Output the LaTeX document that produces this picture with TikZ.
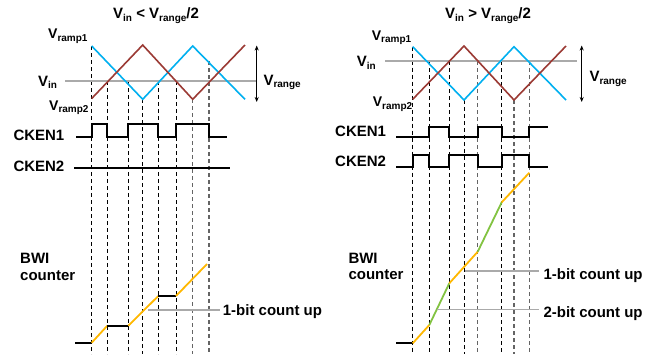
\documentclass[tikz,border=0pt]{standalone}
\usepackage{fontspec}
\setmainfont{Liberation Sans}
\usetikzlibrary{arrows.meta}
\definecolor{rampblue}{RGB}{0,176,240}
\definecolor{rampred}{RGB}{155,58,52}
\definecolor{cntorange}{RGB}{255,184,0}
\definecolor{cntgreen}{RGB}{130,195,65}
\definecolor{vingray}{RGB}{170,170,170}
\definecolor{guidegraycol}{RGB}{100,100,100}
\newcommand\sbs[1]{\raisebox{-2.6pt}{\fontsize{10}{10}\selectfont #1}}
\tikzset{
  lbl/.style={font=\fontsize{15}{17}\selectfont\bfseries, inner sep=0pt, anchor=base west},
  rlbl/.style={font=\fontsize{14}{16}\selectfont\bfseries, inner sep=0pt, anchor=base west},
  rampA/.style={rampblue, line width=1.6pt, line join=miter},
  rampB/.style={rampred, line width=1.6pt, line join=miter},
  vinline/.style={vingray, line width=1.6pt},
  clk/.style={black, line width=1.8pt, line join=miter},
  guide/.style={black, line width=0.9pt, dash pattern=on 4pt off 3pt},
  guidegray/.style={guidegraycol, line width=1.2pt, dash pattern=on 4pt off 3pt},
  rangearrow/.style={black, line width=1.2pt, {Stealth[length=5pt,width=4pt]}-{Stealth[length=5pt,width=4pt]}},
  cntblack/.style={black, line width=1.8pt},
  cntor/.style={cntorange, line width=1.8pt},
  cntgr/.style={cntgreen, line width=1.8pt},
  leader/.style={vingray, line width=1.6pt}
}
\begin{document}
\begin{tikzpicture}[x=1pt,y=-1pt]
\useasboundingbox (0,0) rectangle (658,354);
\fill[white] (0,0) rectangle (658,354);

% ================= LEFT PANEL =================
% guides
\draw[guide] (91.7,46) -- (91.7,354);
\draw[guide] (107.3,81) -- (107.3,354);
\draw[guide] (128.3,81) -- (128.3,354);
\draw[guide] (142.7,99) -- (142.7,354);
\draw[guide] (158.3,81) -- (158.3,354);
\draw[guide] (176,81) -- (176,354);
\draw[guidegray] (192.7,99) -- (192.7,354);
\draw[guidegray] (209,61) -- (209,354);

% Vin line and ramps
\draw[vinline] (65,80.7) -- (257,80.7);
\draw[rampA] (91.7,46) -- (142.7,99.3) -- (192.7,46) -- (245,99.3);
\draw[rampB] (91.7,98.5) -- (142.7,45) -- (192.7,99.3) -- (245,45);
\draw[rangearrow] (256.7,45.5) -- (256.7,102);

% clocks
\draw[clk] (76,136.7) -- (91.7,136.7) -- (91.7,124.3) -- (107.3,124.3) -- (107.3,136.7)
  -- (128.3,136.7) -- (128.3,124.3) -- (158.3,124.3) -- (158.3,136.7) -- (176,136.7)
  -- (176,124.3) -- (209,124.3) -- (209,136.7) -- (226.7,136.7);
\draw[clk] (74,168) -- (230,168);

% counter
\draw[cntblack] (75,342.7) -- (91.7,342.7);
\draw[cntor] (91.7,342.7) -- (107.3,325.7);
\draw[cntblack] (107.3,325.7) -- (128.3,325.7);
\draw[cntor] (128.3,325.7) -- (158.3,296);
\draw[cntblack] (158.3,296) -- (176,296);
\draw[cntor] (176,296) -- (207,264);
\draw[leader] (148.3,310) -- (220,310);

% labels
\node[lbl] (titleL) at (113,18.5) {V\sbs{in} < V\sbs{range}/2};
\node[rlbl] (vr1L) at (48,38.5) {V\sbs{ramp1}};
\node[lbl] (vinL) at (38,86) {V\sbs{in}};
\node[rlbl] (vr2L) at (49,110) {V\sbs{ramp2}};
\node[lbl] (vrgL) at (263.3,85) {V\sbs{range}};
\node[lbl] (ck1L) at (13.3,140.7) {CKEN1};
\node[lbl] (ck2L) at (13.3,171.7) {CKEN2};
\node[lbl] (bwiL) at (20,263.3) {BWI};
\node[lbl] (cntL) at (20,280) {counter};
\node[lbl] (oneL) at (222.7,315.7) {1-bit count up};

% ================= RIGHT PANEL =================
\draw[guide] (412.7,46.7) -- (412.7,354);
\draw[guide] (429.3,61) -- (429.3,354);
\draw[guide] (449.3,61) -- (449.3,354);
\draw[guide] (464,100) -- (464,354);
\draw[guidegray] (477.7,61) -- (477.7,354);
\draw[guide] (501.7,61) -- (501.7,354);
\draw[guidegray] (514,100) -- (514,354);
\draw[guidegray] (529.3,61) -- (529.3,354);

\draw[vinline] (385,61) -- (577.3,61);
\draw[rampA] (412.7,46.7) -- (464,100) -- (514,46.7) -- (566,100);
\draw[rampB] (412.7,99.3) -- (464,46) -- (514,100) -- (566,46);
\draw[rangearrow] (581.7,45.5) -- (581.7,102);

\draw[clk] (396,137.3) -- (429.3,137.3) -- (429.3,126.7) -- (449.3,126.7) -- (449.3,137.3)
  -- (477.7,137.3) -- (477.7,126.7) -- (501.7,126.7) -- (501.7,137.3) -- (529.3,137.3)
  -- (529.3,126.7) -- (548.3,126.7);
\draw[clk] (396,166.7) -- (412.7,166.7) -- (412.7,155) -- (429.3,155) -- (429.3,166.7)
  -- (449.3,166.7) -- (449.3,155) -- (477.7,155) -- (477.7,166.7) -- (501.7,166.7)
  -- (501.7,155) -- (529.3,155) -- (529.3,166.7) -- (548.3,166.7);

\draw[cntblack] (396,343.3) -- (412.7,343.3);
\draw[cntor] (412.7,343.3) -- (429.3,325);
\draw[cntgr] (429.3,325) -- (449.3,283.3);
\draw[cntor] (449.3,283.3) -- (477.7,251.7);
\draw[cntgr] (477.7,251.7) -- (501.7,202.3);
\draw[cntor] (501.7,202.3) -- (529.3,172.7);
\draw[leader] (465,270.7) -- (539.3,270.7);
\draw[leader] (437.3,309.3) -- (539.3,309.3);

\node[lbl] (titleR) at (445,18.5) {V\sbs{in} > V\sbs{range}/2};
\node[rlbl] (vr1R) at (371.7,40) {V\sbs{ramp1}};
\node[lbl] (vinR) at (356.7,66.7) {V\sbs{in}};
\node[rlbl] (vr2R) at (372.7,106.7) {V\sbs{ramp2}};
\node[lbl] (vrgR) at (589.3,81.7) {V\sbs{range}};
\node[lbl] (ck1R) at (335,136.7) {CKEN1};
\node[lbl] (ck2R) at (335,166.7) {CKEN2};
\node[lbl] (bwiR) at (348.3,263.3) {BWI};
\node[lbl] (cntR) at (348.3,279.3) {counter};
\node[lbl] (oneR) at (543.3,279.3) {1-bit count up};
\node[lbl] (twoR) at (543.3,317.3) {2-bit count up};
\end{tikzpicture}
\end{document}
